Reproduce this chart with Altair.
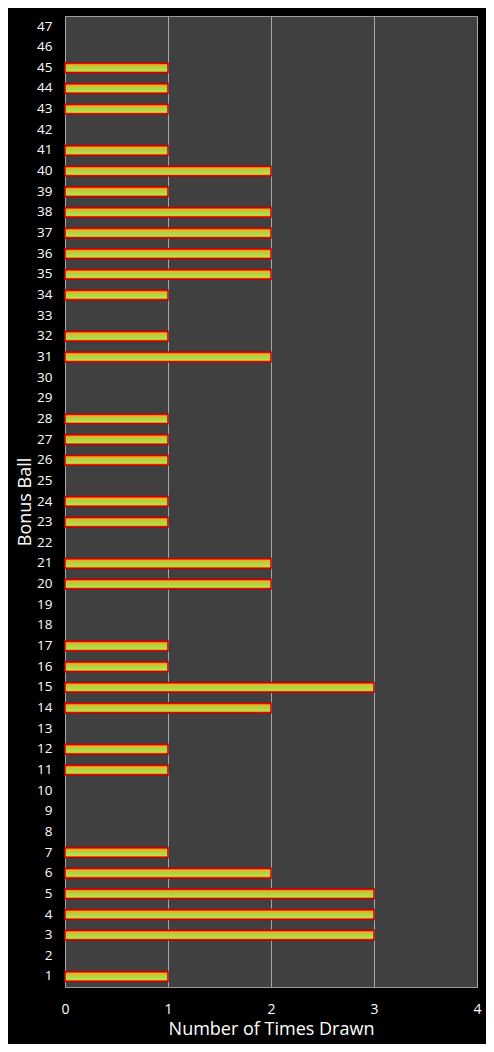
import altair as alt
import pandas as pd

balls = list(range(1, 48))
counts = [1, 0, 3, 3, 3, 2, 1, 0, 0, 0,
          1, 1, 0, 2, 3, 1, 1, 0, 0, 2,
          2, 0, 1, 1, 0, 1, 1, 1, 0, 0,
          2, 1, 0, 1, 2, 2, 2, 2, 1, 2,
          1, 0, 1, 1, 1, 0, 0]
x_ticks = [0, 1, 2, 3, 4]

df = pd.DataFrame({"ball": balls, "count": counts})

grad = alt.LinearGradient(
    gradient="linear", x1=0, y1=0, x2=0, y2=1,
    stops=[
        alt.GradientStop(color="#d81800", offset=0),
        alt.GradientStop(color="#f0b020", offset=0.2),
        alt.GradientStop(color="#a8d848", offset=0.5),
        alt.GradientStop(color="#c8dc40", offset=0.8),
        alt.GradientStop(color="#d82000", offset=1),
    ],
)

chart = alt.Chart(df).mark_bar(
    color=grad, stroke="#c80000", strokeWidth=1.5
).encode(
    x=alt.X("count:Q", title="Number of Times Drawn",
            scale=alt.Scale(domain=[0, 4], nice=False),
            axis=alt.Axis(values=x_ticks, format="d", grid=True,
                          gridColor="#a8a8a8", gridWidth=1,
                          domain=False, ticks=False, labelFlush=False,
                          labelColor="white", labelFontSize=14,
                          labelPadding=15, titleColor="white",
                          titleFontSize=18, titleFontWeight="normal",
                          titlePadding=4)),
    y=alt.Y("ball:O", title="Bonus Ball",
            sort="descending",
            scale=alt.Scale(paddingInner=0.52, paddingOuter=0.27),
            axis=alt.Axis(domain=False, ticks=False, labelColor="white",
                          labelFontSize=13.5, labelPadding=13,
                          titleColor="white", titleFontSize=18,
                          titleFontWeight="normal", titlePadding=2)),
    strokeOpacity=alt.condition("datum.count > 0", alt.value(1), alt.value(0)),
).properties(
    width=412, height=971,
    background="black",
    autosize=alt.AutoSizeParams(type="none"),
    padding={"left": 57, "top": 8, "right": 9, "bottom": 57},
).configure_view(
    fill="#404040", stroke="#9a9a9a", strokeWidth=1
).configure_axis(
    labelFont="Open Sans", titleFont="Open Sans"
)

chart.save("out.html", embed_options={"renderer": "svg", "actions": False})
